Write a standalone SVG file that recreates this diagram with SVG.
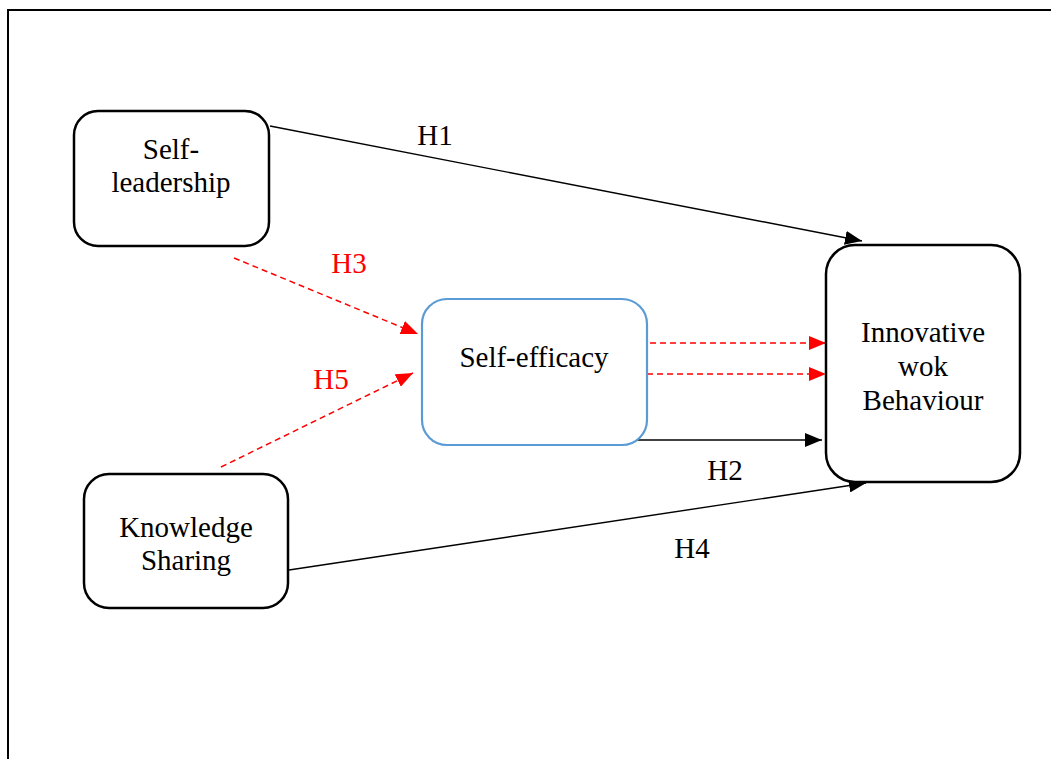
<svg xmlns="http://www.w3.org/2000/svg" width="1051" height="759" viewBox="0 0 1051 759">
  <style>
    .box { fill: #ffffff; stroke: #000000; stroke-width: 2.5; }
    .blue { fill: #ffffff; stroke: #5B9BD5; stroke-width: 2.2; }
    .lbl { font-family: "Liberation Serif", "Times New Roman", serif; font-size: 29px; fill: #000000; text-anchor: middle; }
    .red { fill: #ff0000; }
    .solid { stroke: #000000; stroke-width: 1.4; fill: none; }
    .dash { stroke: #ff0000; stroke-width: 1.5; fill: none; stroke-dasharray: 6 4; }
  </style>
  <defs>
    <marker id="ab" markerUnits="userSpaceOnUse" markerWidth="17" markerHeight="14" refX="17" refY="7" orient="auto">
      <path d="M0,0 L17,7 L0,14 z" fill="#000000"/>
    </marker>
    <marker id="ar" markerUnits="userSpaceOnUse" markerWidth="17" markerHeight="14" refX="17" refY="7" orient="auto">
      <path d="M0,0 L17,7 L0,14 z" fill="#ff0000"/>
    </marker>
  </defs>
  <rect width="1051" height="759" fill="#ffffff"/>
  <path d="M8,759 L8,10 L1051,10" fill="none" stroke="#000000" stroke-width="2"/>

  <g id="connectors">
    <line class="solid" x1="270" y1="126" x2="862" y2="241" marker-end="url(#ab)"/>
    <line class="dash" x1="234" y1="258" x2="418" y2="334" marker-end="url(#ar)"/>
    <line class="dash" x1="221" y1="467" x2="413" y2="373" marker-end="url(#ar)"/>
    <line class="dash" x1="650" y1="343" x2="826" y2="343" marker-end="url(#ar)"/>
    <line class="dash" x1="647" y1="374" x2="826" y2="374" marker-end="url(#ar)"/>
    <line class="solid" x1="632" y1="440" x2="822" y2="440" marker-end="url(#ab)"/>
    <line class="solid" x1="289" y1="570" x2="866" y2="483" marker-end="url(#ab)"/>
    <text class="lbl" x="435" y="145">H1</text>
    <text class="lbl red" x="349" y="273">H3</text>
    <text class="lbl red" x="331" y="389">H5</text>
    <text class="lbl" x="725" y="480">H2</text>
    <text class="lbl" x="692" y="558">H4</text>
  </g>

  <g id="self-leadership">
    <rect class="box" x="74" y="111" width="195" height="135" rx="24"/>
    <text class="lbl" x="171" y="159">Self-</text>
    <text class="lbl" x="171" y="192">leadership</text>
  </g>

  <g id="self-efficacy">
    <rect class="blue" x="422" y="299" width="225" height="146" rx="25"/>
    <text class="lbl" x="534" y="367">Self-efficacy</text>
  </g>

  <g id="knowledge-sharing">
    <rect class="box" x="84" y="474" width="204" height="134" rx="25"/>
    <text class="lbl" x="186" y="537">Knowledge</text>
    <text class="lbl" x="186" y="570">Sharing</text>
  </g>

  <g id="innovative-work-behaviour">
    <rect class="box" x="826" y="245" width="194" height="237" rx="29"/>
    <text class="lbl" x="923" y="342">Innovative</text>
    <text class="lbl" x="923" y="376">wok</text>
    <text class="lbl" x="923" y="410">Behaviour</text>
  </g>
</svg>
